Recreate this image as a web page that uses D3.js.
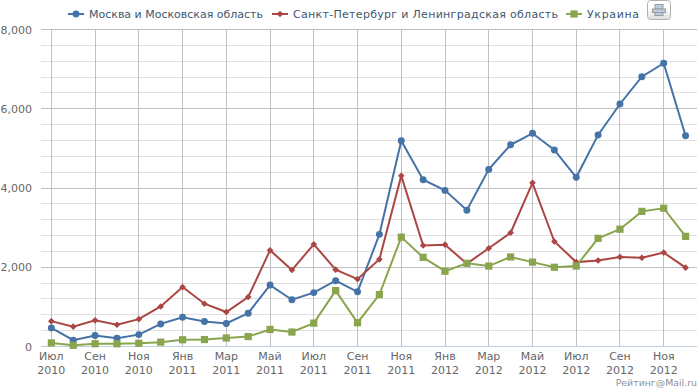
<!DOCTYPE html>
<html>
<head>
<meta charset="utf-8">
<script src="https://cdn.jsdelivr.net/npm/d3@7"></script>
<style>
  html, body { margin: 0; padding: 0; background: #fff; }
  svg { display: block; font-family: "DejaVu Sans", sans-serif; }
</style>
</head>
<body>
<div id="chart"></div>
<script>
const CHART_WIDTH = 700;
const CHART_HEIGHT = 388;
const MARGIN = { left: 41, right: 3, top: 29, bottom: 42 };

const monthNames = ['Июл', 'Авг', 'Сен', 'Окт', 'Ноя', 'Дек', 'Янв', 'Фев', 'Мар', 'Апр', 'Май', 'Июн'];
const months = d3.range(30);
const moscow = [470, 160, 280, 210, 300, 570, 740, 630, 580, 840, 1550, 1180, 1360, 1660, 1380, 2830, 5190, 4210, 3940, 3440, 4470, 5090, 5380, 4960, 4270, 5340, 6120, 6810, 7150, 5320];
const spb = [640, 500, 660, 550, 690, 1010, 1500, 1080, 870, 1250, 2430, 1930, 2580, 1940, 1700, 2200, 4310, 2550, 2570, 2090, 2480, 2870, 4130, 2650, 2130, 2170, 2260, 2240, 2370, 1990];
const ukraine = [90, 30, 70, 70, 80, 110, 170, 175, 215, 250, 430, 365, 590, 1410, 600, 1310, 2760, 2250, 1900, 2100, 2030, 2260, 2130, 2000, 2030, 2730, 2960, 3410, 3490, 2780];

const seriesNames = ['Москва и Московская область', 'Санкт-Петербург и Ленинградская область', 'Украина'];
const seriesValues = [moscow, spb, ukraine];
const seriesColors = ['#4572A7', '#AA4643', '#89A54E'];
const seriesSymbols = [d3.symbolCircle, d3.symbolSquare, d3.symbolSquare];
const symbolSizes = [38, 22, 52];
const symbolRotate = [0, 45, 0];
const legendX = [68, 272, 566];
const legendWidths = [174, 265, 52];

const svg = d3.select('#chart').append('svg')
  .attr('width', CHART_WIDTH)
  .attr('height', CHART_HEIGHT);

const x = d3.scalePoint()
  .domain(months)
  .range([50.85, 685.08]);

const y = d3.scaleLinear()
  .domain([0, 8000])
  .range([CHART_HEIGHT - MARGIN.bottom, MARGIN.top]);

// minor gridlines first, major ones go over them
svg.append('g')
  .selectAll('line')
  .data(d3.range(0, 8001, 400).filter(d => d % 2000 !== 0))
  .join('line')
  .attr('x1', MARGIN.left)
  .attr('x2', CHART_WIDTH - MARGIN.right)
  .attr('y1', d => Math.round(y(d)) + 0.5)
  .attr('y2', d => Math.round(y(d)) + 0.5)
  .attr('stroke', '#e0e0e0');

svg.append('g')
  .selectAll('line')
  .data(months.filter(d => d % 2 === 0))
  .join('line')
  .attr('x1', d => Math.round(x(d)) + 0.5)
  .attr('x2', d => Math.round(x(d)) + 0.5)
  .attr('y1', y(8000))
  .attr('y2', y(0))
  .attr('stroke', '#c0c0c0');

svg.append('g')
  .selectAll('line')
  .data([2000, 4000, 6000, 8000])
  .join('line')
  .attr('x1', MARGIN.left)
  .attr('x2', CHART_WIDTH - MARGIN.right)
  .attr('y1', d => Math.round(y(d)) + 0.5)
  .attr('y2', d => Math.round(y(d)) + 0.5)
  .attr('stroke', '#c0c0c0');

// y axis
const yAxis = svg.append('g')
  .attr('transform', `translate(${MARGIN.left},0.5)`)
  .call(d3.axisLeft(y).tickValues([0, 2000, 4000, 6000, 8000]).tickFormat(d3.format(',')).tickSize(0).tickPadding(9));
yAxis.select('.domain').remove();
yAxis.selectAll('text')
  .attr('fill', '#666')
  .attr('font-size', 11)
  .style('font-family', '"DejaVu Sans", sans-serif');

// x axis
const xAxis = svg.append('g')
  .attr('transform', `translate(0,${y(0)})`)
  .call(d3.axisBottom(x).tickValues(months.filter(d => d % 2 === 0)).tickSize(0).tickFormat(''));
xAxis.select('.domain')
  .attr('d', `M${MARGIN.left},0.5H${CHART_WIDTH - MARGIN.right}`)
  .attr('stroke', '#C0D0E0');
xAxis.selectAll('.tick text').remove();

const xLabels = xAxis.selectAll('.tick').append('text')
  .attr('text-anchor', 'middle')
  .attr('fill', '#666')
  .attr('font-size', 11)
  .style('font-family', '"DejaVu Sans", sans-serif');
xLabels.append('tspan')
  .attr('x', 0)
  .attr('y', 13.5)
  .text(d => monthNames[d % 12]);
xLabels.append('tspan')
  .attr('x', 0)
  .attr('y', 27.5)
  .text(d => 2010 + Math.floor((d + 6) / 12));

// series
const line = d3.line()
  .x((d, i) => x(i) + 0.5)
  .y(d => y(d) + 0.5);

seriesValues.forEach((values, s) => {
  const g = svg.append('g');
  g.append('path')
    .attr('d', line(values))
    .attr('fill', 'none')
    .attr('stroke', seriesColors[s])
    .attr('stroke-width', 2);
  g.selectAll('path.marker')
    .data(values)
    .join('path')
    .attr('class', 'marker')
    .attr('transform', (d, i) => `translate(${x(i) + 0.5},${y(d) + 0.5}) rotate(${symbolRotate[s]})`)
    .attr('d', d3.symbol().type(seriesSymbols[s]).size(symbolSizes[s]))
    .attr('fill', seriesColors[s]);
});

// legend
const legend = svg.append('g')
  .selectAll('g')
  .data(seriesNames)
  .join('g')
  .attr('transform', (d, i) => `translate(${legendX[i]},14)`);
legend.append('line')
  .attr('x1', 0)
  .attr('x2', 16)
  .attr('stroke', (d, i) => seriesColors[i])
  .attr('stroke-width', 2);
legend.append('path')
  .attr('transform', (d, i) => `translate(8,0) rotate(${symbolRotate[i]})`)
  .attr('d', (d, i) => d3.symbol().type(seriesSymbols[i]).size(symbolSizes[i])())
  .attr('fill', (d, i) => seriesColors[i]);
legend.append('text')
  .attr('x', 21)
  .attr('y', 4)
  .attr('font-size', 11)
  .attr('fill', '#3E576F')
  .attr('textLength', (d, i) => legendWidths[i])
  .attr('lengthAdjust', 'spacing')
  .text(d => d);

// print button
const defs = svg.append('defs');
const grad = defs.append('linearGradient')
  .attr('id', 'btn')
  .attr('x1', 0).attr('x2', 0).attr('y1', 0).attr('y2', 1);
grad.append('stop').attr('offset', 0.4).attr('stop-color', '#fff');
grad.append('stop').attr('offset', 1).attr('stop-color', '#dcdcdc');

const button = svg.append('g').attr('transform', 'translate(647,0)');
button.append('rect')
  .attr('x', 0.5).attr('y', 0.5)
  .attr('width', 23).attr('height', 19)
  .attr('rx', 3)
  .attr('fill', 'url(#btn)')
  .attr('stroke', '#b0b0b0');
button.append('rect')
  .attr('x', 8).attr('y', 4.5).attr('width', 8).attr('height', 4.5)
  .attr('fill', '#b8cce4').attr('stroke', '#9a9a9a');
button.append('rect')
  .attr('x', 5.5).attr('y', 9).attr('width', 13).attr('height', 3.5)
  .attr('fill', '#b8cce4').attr('stroke', '#9a9a9a');
button.append('rect')
  .attr('x', 8).attr('y', 12.5).attr('width', 8).attr('height', 3)
  .attr('fill', '#b8cce4').attr('stroke', '#9a9a9a');

// credit
svg.append('text')
  .attr('x', 697)
  .attr('y', 386)
  .attr('text-anchor', 'end')
  .attr('font-size', 9.4)
  .attr('fill', '#909090')
  .text('Рейтинг@Mail.ru');
</script>
</body>
</html>
